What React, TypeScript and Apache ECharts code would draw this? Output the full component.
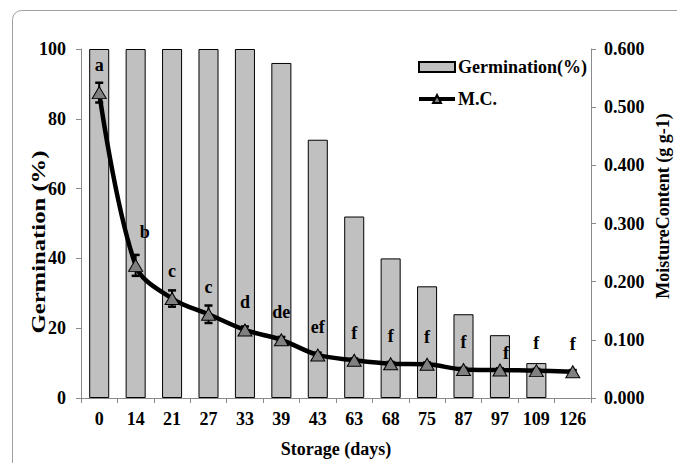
import React, { useEffect, useRef } from "react";
import * as echarts from "echarts";

const categories = ["0", "14", "21", "27", "33", "39", "43", "63", "68", "75", "87", "97", "109", "126"];
const germination: (number | null)[] = [100, 100, 100, 100, 100, 96, 74, 52, 40, 32, 24, 18, 10, null];
const moisture = [0.525, 0.228, 0.171, 0.144, 0.117, 0.1, 0.074, 0.065, 0.059, 0.058, 0.049, 0.048, 0.047, 0.045];
const moistureErr = [0.017, 0.018, 0.014, 0.015, 0.006, 0.005, 0.004, 0.003, 0.003, 0.003, 0.003, 0.003, 0.003, 0.003];
const letters = ["a", "b", "c", "c", "d", "de", "ef", "f", "f", "f", "f", "f", "f", "f"];
const leftTicks = [0, 20, 40, 60, 80, 100];
const rightTicks = [0, 0.1, 0.2, 0.3, 0.4, 0.5, 0.6];

const FONT = "'Liberation Serif', 'Times New Roman', serif";
const AXIS_COLOR = "#8a8a8a";

export default function App() {
  const ref = useRef<HTMLDivElement>(null);
  useEffect(() => {
    if (!ref.current) return;
    const chart = echarts.init(ref.current, undefined, { renderer: "svg" });
    const labelShift: Record<number, number[]> = { 1: [9, -6], 11: [6, 10] };
    const txt = { fontFamily: FONT, fontWeight: "bold" as const, fontSize: 18, color: "#000" };
    chart.setOption({
      animation: false,
      backgroundColor: "#fff",
      grid: { left: 81, right: 86, top: 49, bottom: 62, containLabel: false },
      legend: {
        orient: "vertical",
        left: 412,
        top: 53,
        itemGap: 14,
        itemWidth: 36,
        itemHeight: 10,
        textStyle: { ...txt, padding: [0, 0, 0, -2] },
        data: [
          { name: "Germination(%)", icon: "rect" },
          { name: "M.C.", lineStyle: { width: 4, color: "#000" } },
        ],
      },
      graphic: [
        {
          type: "rect",
          silent: true,
          shape: { x: 12.5, y: 10.5, width: 760, height: 560, r: 9 },
          style: { fill: "none", stroke: "#a0a0a0", lineWidth: 1 },
          z: -10,
        },
        {
          type: "text",
          x: 39,
          y: 242,
          rotation: Math.PI / 2,
          scaleX: 1.3,
          style: {
            text: "Germination (%)",
            fontFamily: FONT,
            fontWeight: "bold",
            fontSize: 19,
            fill: "#000",
            align: "center",
            verticalAlign: "middle",
          },
        },
        {
          type: "text",
          x: 663,
          y: 206,
          rotation: Math.PI / 2,
          style: {
            text: "MoistureContent (g g-1)",
            fontFamily: FONT,
            fontWeight: "bold",
            fontSize: 18,
            fill: "#000",
            align: "center",
            verticalAlign: "middle",
          },
        },
      ],
      xAxis: {
        type: "category",
        data: categories,
        boundaryGap: true,
        name: "Storage (days)",
        nameLocation: "middle",
        nameGap: 42,
        nameTextStyle: { ...txt },
        axisLine: { lineStyle: { color: AXIS_COLOR, width: 1 } },
        axisTick: { show: true, alignWithLabel: false, length: 5, inside: false, lineStyle: { color: AXIS_COLOR } },
        axisLabel: { ...txt, margin: 12, interval: 0 },
        splitLine: { show: false },
      },
      yAxis: [
        {
          type: "value",
          min: leftTicks[0],
          max: leftTicks[leftTicks.length - 1],
          interval: leftTicks[1] - leftTicks[0],
          axisLine: { show: true, lineStyle: { color: AXIS_COLOR } },
          axisTick: { show: true, length: 5, lineStyle: { color: AXIS_COLOR } },
          axisLabel: { ...txt, margin: 15 },
          splitLine: { show: false },
        },
        {
          type: "value",
          position: "right",
          min: rightTicks[0],
          max: rightTicks[rightTicks.length - 1],
          interval: 0.1,
          axisLine: { show: true, lineStyle: { color: AXIS_COLOR } },
          axisTick: { show: true, length: 5, lineStyle: { color: AXIS_COLOR } },
          axisLabel: { ...txt, margin: 13, formatter: (v: number) => v.toFixed(3) },
          splitLine: { show: false },
        },
      ],
      series: [
        {
          name: "Germination(%)",
          type: "bar",
          data: germination,
          barWidth: "55%",
          itemStyle: { color: "#c0c0c0", borderColor: "#000", borderWidth: 1 },
          z: 2,
        },
        {
          name: "errorbars",
          type: "custom",
          yAxisIndex: 1,
          z: 3,
          data: moisture.map((m, i) => [i, m - moistureErr[i], m + moistureErr[i]]),
          renderItem: (params: any, api: any) => {
            const lo = api.coord([api.value(0), api.value(1)]);
            const hi = api.coord([api.value(0), api.value(2)]);
            const cw = 4;
            const st = { stroke: "#000", lineWidth: 2 };
            return {
              type: "group",
              children: [
                { type: "line", shape: { x1: lo[0], y1: lo[1], x2: hi[0], y2: hi[1] }, style: st },
                { type: "line", shape: { x1: hi[0] - cw, y1: hi[1], x2: hi[0] + cw, y2: hi[1] }, style: { ...st, lineWidth: 2.5 } },
                { type: "line", shape: { x1: lo[0] - cw, y1: lo[1], x2: lo[0] + cw, y2: lo[1] }, style: { ...st, lineWidth: 2.5 } },
              ],
            };
          },
        },
        {
          name: "M.C.",
          type: "line",
          yAxisIndex: 1,
          z: 4,
          smooth: 0.35,
          symbol: "triangle",
          symbolSize: [14, 12],
          lineStyle: { color: "#000", width: 4.5 },
          itemStyle: { color: "#808080", borderColor: "#000", borderWidth: 1 },
          data: moisture.map((m, i) => ({
            value: m,
            label: {
              show: true,
              position: "top",
              distance: 12,
              formatter: letters[i],
              ...txt,
              offset: labelShift[i] || [0, 0],
            },
          })),
        },
      ],
    });
    return () => chart.dispose();
  }, []);
  return <div ref={ref} style={{ position: "fixed", left: 0, top: 0, width: 677, height: 463 }} />;
}
